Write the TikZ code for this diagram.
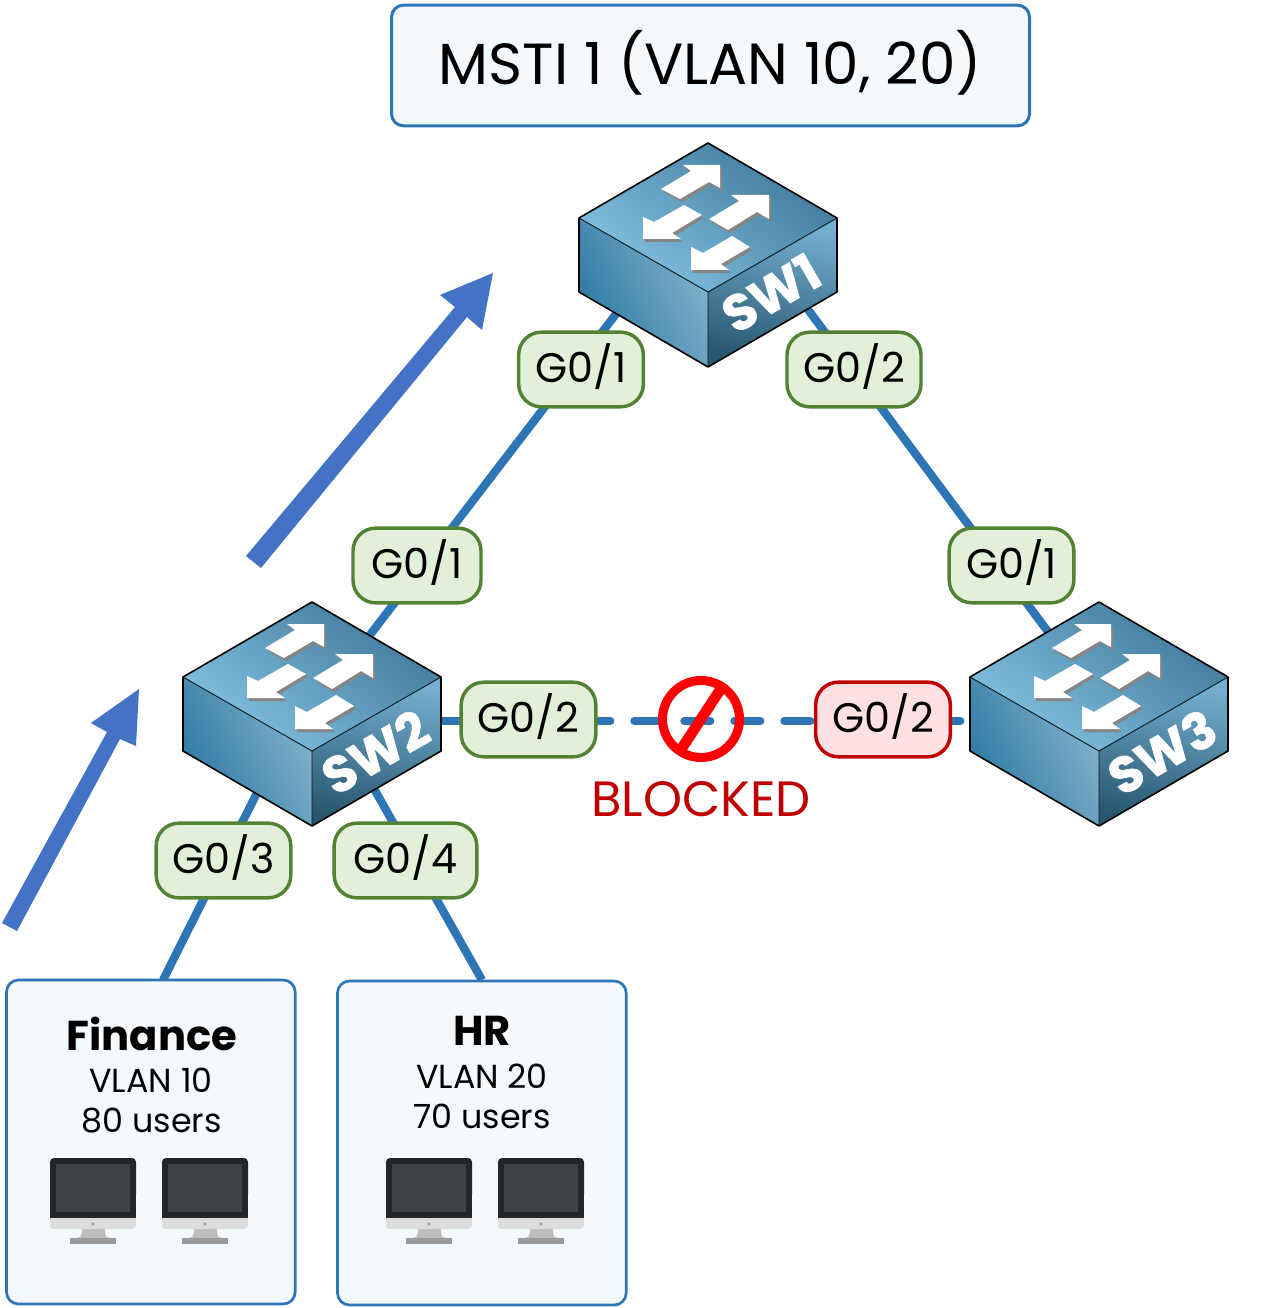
\documentclass[tikz,border=0pt]{standalone}
\usepackage{fontspec}
\setmainfont{Poppins}
\newfontfamily\swfont[BoldFeatures={FakeBold=1.2}]{Poppins}
\usetikzlibrary{backgrounds}
\definecolor{linkblue}{HTML}{2E75B6}
\definecolor{arrowblue}{HTML}{4472C4}
\definecolor{okfill}{HTML}{E2F0D9}
\definecolor{okline}{HTML}{548235}
\definecolor{badfill}{HTML}{FFE1E1}
\definecolor{badline}{HTML}{C00000}
\definecolor{panelfill}{HTML}{F4F9FD}
\definecolor{topdark}{HTML}{3F7898}
\definecolor{toplight}{HTML}{85C3E3}
\definecolor{leftlight}{HTML}{86B4CC}
\definecolor{leftdark}{HTML}{2A78A2}
\definecolor{rightlight}{HTML}{74AFCF}
\definecolor{rightdark}{HTML}{28566F}
\definecolor{scrdark}{HTML}{22272A}
\definecolor{scrmid}{HTML}{3D4347}
\definecolor{chin}{HTML}{DCDCDC}
\definecolor{neck}{HTML}{BDBDBD}
\definecolor{foot}{HTML}{9A9A9A}
\definecolor{arrowshade}{HTML}{858585}
\newcommand{\pxfont}[1]{\fontsize{#1}{#1}\selectfont}
\tikzset{
  x=0.75pt,y=-0.75pt,
  portbase/.style={rectangle,rounded corners=17pt,line width=2.6pt,minimum height=56pt,inner sep=0pt,outer sep=0pt,font=\pxfont{31},text height=20pt,text depth=0pt},
  portok/.style={portbase,draw=okline,fill=okfill},
  portbad/.style={portbase,draw=badline,fill=badfill},
  panel/.style={rectangle,rounded corners=9pt,line width=2pt,draw=linkblue,fill=panelfill,inner sep=0pt,outer sep=0pt},
  link/.style={line width=6.2pt,draw=linkblue},
  blockedlink/.style={line width=6pt,draw=linkblue,line cap=round,dash pattern=on 19.6pt off 17.9pt,dash phase=5.05pt},
  bigarrow/.style={fill=arrowblue,draw=none},
  faceedge/.style={draw=black,line width=1.2pt,line join=round},
  inneredge/.style={draw=black!70!rightdark,line width=0.7pt},
  pics/swibody/.style={code={
    \shade[top color=topdark,bottom color=toplight,shading angle=-38] (129,0)--(258,75)--(129,149)--(0,75)--cycle;
    \shade[top color=leftlight,bottom color=leftdark,shading angle=-65] (0,75)--(129,149)--(129,224)--(0,149)--cycle;
    \shade[top color=rightlight,bottom color=rightdark,shading angle=-12] (129,149)--(258,75)--(258,149)--(129,224)--cycle;
    \draw[inneredge] (0,75)--(129,149)--(258,75) (129,149)--(129,224);
    \draw[faceedge] (129,0)--(258,75)--(258,149)--(129,224)--(0,149)--(0,75)--cycle;
    \foreach \dx/\dy/\col in {2/3/arrowshade,0/0/white}{
      \begin{scope}[shift={(129+\dx,\dy)}]
      \fill[\col] (12,22)--(-25,22)--(-17,28)--(-47,46)--(-28,56)--(1,39)--(12,45)--cycle;
      \fill[\col] (61,52)--(23,52)--(31,58)--(1,76)--(20,87)--(49,69)--(61,76)--cycle;
      \fill[\col] (-65,96)--(-27,96)--(-36,90)--(-6,72)--(-24,62)--(-54,79)--(-65,74)--cycle;
      \fill[\col] (-17,127)--(21,127)--(13,121)--(42,104)--(24,93)--(-5,110)--(-17,104)--cycle;
      \end{scope}
    }
    \node[rotate=30,text=white,font=\swfont\pxfont{38}\bfseries,inner sep=0pt] (-name) at (192,150) {#1};
  }},
  pics/monitor/.style={code={
    \fill[neck] (32,68) -- (55,68) -- (55,75) .. controls (55,78) and (57,80) .. (60,80) -- (27,80) .. controls (30,80) and (32,78) .. (32,75) -- cycle;
    \fill[foot] (20,80) rectangle (66,86);
    \fill[chin,rounded corners=3pt] (0,50) rectangle (86,71);
    \fill[chin] (0,50) rectangle (86,60);
    \fill[scrdark,rounded corners=3pt] (0,0) rectangle (86,40);
    \fill[scrdark] (0,20) rectangle (86,60);
    \fill[scrmid] (6,6) rectangle (80,54);
    \fill[foot] (43,66) circle[radius=1.6];
  }}
}
\begin{document}
\begin{tikzpicture}
\useasboundingbox (0,0) rectangle (1263,1308);
% title
\node[panel,line width=2.25pt,minimum width=478.5pt,minimum height=90.5pt,font=\pxfont{43.5},text height=35.8pt,text depth=7.2pt] (title) at (710.5,65.5) {MSTI 1 (VLAN 10, 20)};
% arrows
\fill[bigarrow] (246,556)--(261,568)--(467,317)--(482,330)--(493,273)--(440,295)--(455,307)--cycle;
\fill[bigarrow] (2,923)--(17,931)--(120,739)--(136,746)--(139,689)--(91,723)--(107,732)--cycle;
% switches
\pic (sw1) at (579,143) {swibody=SW1};
\pic (sw2) at (183,602) {swibody=SW2};
\pic (sw3) at (970,602) {swibody=SW3};
% panels
\node[panel,minimum width=216.5pt,minimum height=243pt,anchor=north west] (fin) at (6.5,980) {};
\node[panel,minimum width=216.5pt,minimum height=243pt,anchor=north west] (hr) at (337.5,981) {};
\node[font=\pxfont{31.3}\bfseries] (finT) at (152,1034) {Finance};
\node[font=\pxfont{25}] (finV) at (151,1080) {VLAN 10};
\node[font=\pxfont{25}] (finU) at (151.5,1120.5) {80 users};
\node[font=\pxfont{31.3}\bfseries] (hrT) at (482,1031) {HR};
\node[font=\pxfont{25}] (hrV) at (482,1076) {VLAN 20};
\node[font=\pxfont{25}] (hrU) at (482,1116) {70 users};
\pic (pc1) at (50,1158) {monitor};
\pic (pc2) at (162,1158) {monitor};
\pic (pc3) at (386,1158) {monitor};
\pic (pc4) at (498,1158) {monitor};
% port labels
\node[portok,minimum width=93.5pt] (p1) at (581,369.5) {G0/1};
\node[portok,minimum width=100.5pt] (p2) at (854,369.5) {G0/2};
\node[portok,minimum width=96pt] (p3) at (417,565.5) {G0/1};
\node[portok,minimum width=93.5pt] (p4) at (1011.5,565.5) {G0/1};
\node[portok,minimum width=101pt] (p5) at (528.5,719.5) {G0/2};
\node[portbad,minimum width=101pt] (p6) at (883,719.5) {G0/2};
\node[portok,minimum width=101pt] (p7) at (223.5,860.5) {G0/3};
\node[portok,minimum width=107pt] (p8) at (405.5,860.5) {G0/4};
% anchors of the links
\coordinate (a1) at (662,254);
\coordinate (a2) at (340,674);
\coordinate (a3) at (780,272);
\coordinate (a4) at (1075,668);
\coordinate (a5) at (441,721);
\coordinate (a6) at (970,721);
\coordinate (a7) at (275,757);
\coordinate (a8) at (163,980);
\coordinate (a9) at (355,755);
\coordinate (a10) at (482,980);
\begin{scope}[on background layer]
\draw[link] (a1) -- (a2);
\draw[link] (a3) -- (a4);
\draw[blockedlink] (a5) -- (a6);
\draw[link] (a7) -- (a8);
\draw[link] (a9) -- (a10);
\end{scope}
% blocked sign
\coordinate (nob) at (701,719);
\coordinate (nob1) at (720,690);
\coordinate (nob2) at (682,748);
\draw[red,line width=6.75pt] (nob) circle[radius=38.5];
\draw[red,line width=8pt] (nob1) -- (nob2);
\node[font=\pxfont{37.2},text=badline] (blk) at (701,799) {BLOCKED};
\end{tikzpicture}
\end{document}
